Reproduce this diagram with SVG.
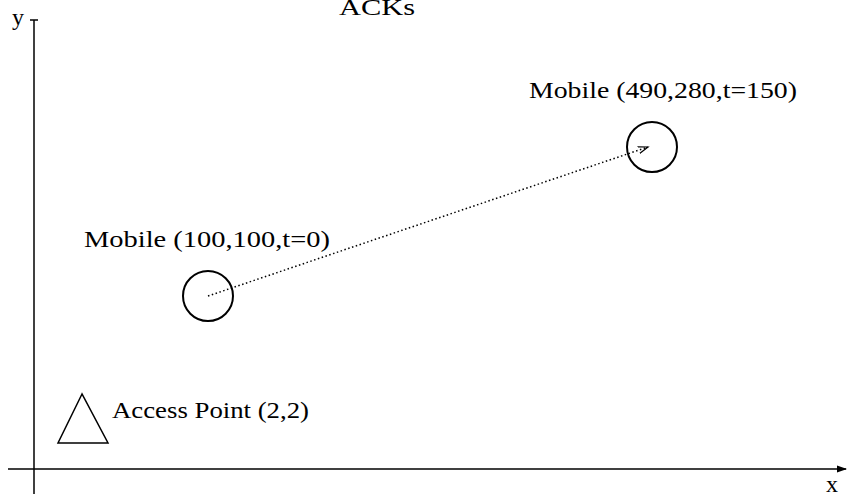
<svg xmlns="http://www.w3.org/2000/svg" width="848" height="494" viewBox="0 0 848 494">
<defs>
<style>
.t{font-family:"Liberation Serif","Times New Roman",serif;font-size:24px;fill:#000}
.ax{stroke:#000;stroke-width:1.5;fill:none}
.node{stroke:#000;stroke-width:2;fill:none}
</style>
<marker id="xa" markerWidth="10" markerHeight="8" refX="9" refY="4" orient="auto" markerUnits="userSpaceOnUse"><path d="M0,0.5 L10,4 L0,7.5 Z" fill="#000"/></marker>
<marker id="ma" markerWidth="12" markerHeight="8" refX="10" refY="4" orient="auto" markerUnits="userSpaceOnUse"><path d="M0,0.5 L10,4 L0,7.5" fill="none" stroke="#000" stroke-width="1.2"/></marker>
</defs>
<rect width="848" height="494" fill="#fff"/>
<text class="t" x="339" y="15" textLength="76" lengthAdjust="spacingAndGlyphs">ACKs</text>
<g id="axes">
<line class="ax" x1="34" y1="20" x2="34" y2="494"/>
<line class="ax" x1="30" y1="20" x2="38" y2="20"/>
<line class="ax" x1="8" y1="469" x2="846" y2="469" marker-end="url(#xa)"/>
<text class="t" x="12" y="25">y</text>
<text class="t" x="826" y="492">x</text>
</g>
<g id="connectors">
<line x1="208" y1="296" x2="648" y2="147" stroke="#000" stroke-width="1.5" stroke-dasharray="1.5 2.5" marker-end="url(#ma)"/>
</g>
<g id="mobile-start">
<circle class="node" cx="208" cy="296" r="25"/>
<text class="t" x="84" y="247" textLength="246" lengthAdjust="spacingAndGlyphs">Mobile (100,100,t=0)</text>
</g>
<g id="mobile-end">
<circle class="node" cx="652" cy="147" r="25"/>
<text class="t" x="529" y="98" textLength="268" lengthAdjust="spacingAndGlyphs">Mobile (490,280,t=150)</text>
</g>
<g id="access-point">
<polygon points="82,394 58,443 108,443" fill="none" stroke="#000" stroke-width="1.5"/>
<text class="t" x="112" y="418" textLength="197" lengthAdjust="spacingAndGlyphs">Access Point (2,2)</text>
</g>
</svg>
